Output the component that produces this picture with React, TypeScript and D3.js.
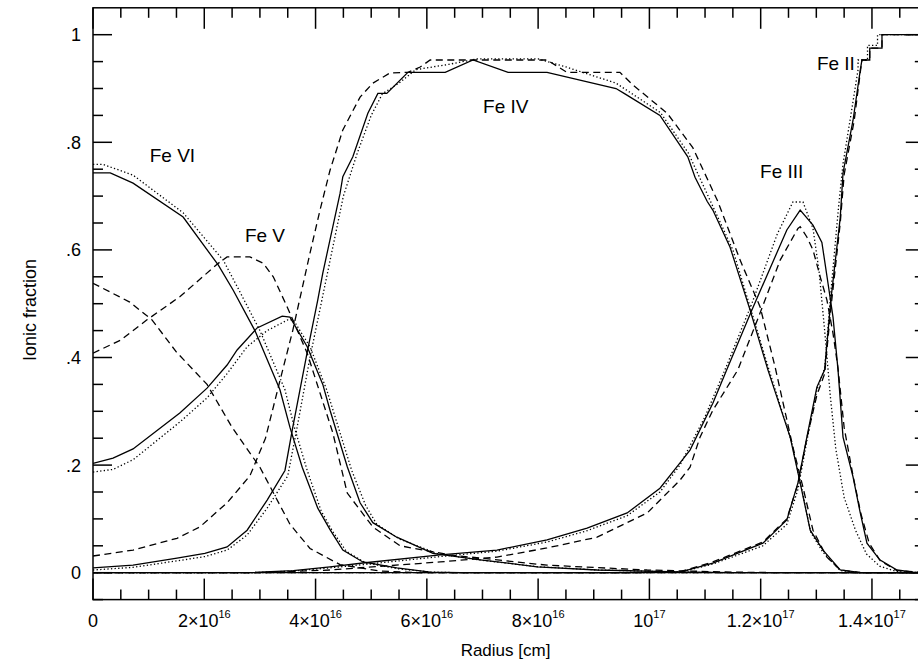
import React from "react";
import * as d3 from "d3";

// radius in units of 1e16 cm, ionic fraction
type Pt = [number, number];

const feVISolid: Pt[] = [[0,0.743],[0.31,0.743],[0.72,0.724],[1.62,0.661],[2.25,0.572],[2.52,0.525],[2.91,0.45],[3.36,0.34],[3.54,0.27],[3.76,0.196],[4.04,0.12],[4.26,0.08],[4.49,0.042],[4.85,0.02],[5.46,0.009],[6.06,0.001],[6.6,0],[14.95,0]];
const feVIDotted: Pt[] = [[0,0.759],[0.18,0.759],[0.72,0.739],[1.62,0.669],[2.34,0.581],[2.6,0.53],[3.0,0.45],[3.45,0.34],[3.62,0.27],[3.85,0.19],[4.1,0.115],[4.3,0.078],[4.55,0.04],[4.9,0.018],[5.5,0.007],[6.1,0.001],[6.6,0],[14.95,0]];
const feVIDashed: Pt[] = [[0,0.538],[0.66,0.503],[1.06,0.47],[1.5,0.41],[2.05,0.35],[2.5,0.27],[3.0,0.196],[3.54,0.09],[3.9,0.045],[4.44,0.015],[5.16,0.003],[5.88,0],[14.95,0]];

const feVSolid: Pt[] = [[0,0.203],[0.36,0.213],[0.72,0.23],[1.56,0.297],[2.05,0.343],[2.41,0.386],[2.59,0.414],[2.95,0.455],[3.4,0.477],[3.54,0.475],[3.85,0.42],[4.13,0.35],[4.26,0.302],[4.57,0.197],[4.8,0.13],[5.03,0.093],[5.46,0.066],[6.11,0.036],[6.96,0.024],[7.98,0.011],[9.06,0.005],[10.73,0.001],[11.5,0],[14.95,0]];
const feVDotted: Pt[] = [[0,0.187],[0.36,0.192],[0.72,0.21],[1.56,0.28],[2.05,0.325],[2.41,0.37],[2.77,0.42],[3.13,0.45],[3.5,0.47],[3.6,0.47],[3.9,0.42],[4.2,0.34],[4.35,0.29],[4.65,0.19],[4.9,0.125],[5.1,0.09],[5.5,0.063],[6.2,0.035],[7.0,0.023],[8.0,0.011],[9.1,0.005],[10.7,0.001],[11.5,0],[14.95,0]];
const feVDashed: Pt[] = [[0,0.408],[0.49,0.432],[0.97,0.47],[1.56,0.513],[2.25,0.575],[2.41,0.587],[2.82,0.587],[3.06,0.575],[3.24,0.55],[3.49,0.494],[3.85,0.408],[4.31,0.26],[4.57,0.148],[5.03,0.085],[5.52,0.05],[6.42,0.033],[8.16,0.014],[9.96,0.005],[11.5,0.001],[12.5,0],[14.95,0]];

const feIVSolid: Pt[] = [[0,0.009],[0.72,0.014],[1.51,0.027],[2.01,0.036],[2.41,0.048],[2.77,0.079],[3.13,0.135],[3.45,0.19],[3.59,0.27],[3.85,0.41],[4.04,0.507],[4.13,0.557],[4.44,0.705],[4.49,0.736],[4.67,0.773],[4.94,0.854],[5.12,0.891],[5.28,0.891],[5.66,0.93],[6.33,0.93],[6.83,0.953],[7.46,0.93],[8.16,0.93],[9.4,0.9],[9.56,0.89],[10.19,0.85],[10.69,0.773],[10.82,0.735],[11.04,0.69],[11.14,0.674],[11.45,0.605],[11.81,0.488],[12.13,0.377],[12.53,0.252],[12.71,0.167],[12.89,0.079],[13.12,0.042],[13.43,0.005],[13.8,0],[14.95,0]];
const feIVDotted: Pt[] = [[0,0.005],[0.72,0.01],[1.51,0.022],[2.01,0.03],[2.41,0.042],[2.77,0.07],[3.13,0.12],[3.5,0.18],[3.65,0.26],[3.9,0.4],[4.1,0.5],[4.5,0.7],[4.75,0.78],[5.0,0.85],[5.2,0.89],[5.5,0.91],[5.8,0.935],[6.4,0.945],[6.9,0.955],[8.0,0.955],[8.5,0.94],[9.4,0.91],[10.2,0.855],[10.7,0.78],[11.1,0.69],[11.5,0.6],[11.85,0.48],[12.15,0.377],[12.55,0.245],[12.73,0.16],[12.9,0.075],[13.12,0.038],[13.43,0.004],[13.8,0],[14.95,0]];
const feIVDashed: Pt[] = [[0,0.031],[0.72,0.042],[1.51,0.064],[1.92,0.085],[2.41,0.13],[2.82,0.18],[3.1,0.25],[3.36,0.357],[3.59,0.45],[3.9,0.594],[4.08,0.674],[4.26,0.748],[4.49,0.823],[4.8,0.884],[5.03,0.91],[5.34,0.929],[5.66,0.93],[5.88,0.94],[6.06,0.953],[8.16,0.953],[8.52,0.93],[9.47,0.93],[9.71,0.906],[10.32,0.854],[10.78,0.79],[11.23,0.69],[11.63,0.581],[11.99,0.494],[12.26,0.382],[12.58,0.233],[12.76,0.159],[12.94,0.079],[13.19,0.029],[13.43,0.005],[13.8,0],[14.95,0]];

const feIIISolid: Pt[] = [[0,0],[2.8,0],[3.6,0.004],[4.26,0.011],[4.85,0.018],[6.24,0.033],[7.26,0.042],[8.16,0.061],[8.88,0.083],[9.6,0.111],[10.19,0.157],[10.55,0.204],[10.73,0.228],[11.14,0.315],[11.39,0.377],[11.84,0.488],[12.47,0.637],[12.71,0.674],[12.94,0.646],[13.1,0.614],[13.21,0.538],[13.3,0.475],[13.39,0.377],[13.48,0.252],[13.66,0.178],[13.79,0.111],[13.91,0.055],[14.14,0.024],[14.45,0.005],[14.74,0.001],[14.95,0]];
const feIIIDotted: Pt[] = [[0,0],[2.8,0],[3.6,0.003],[4.26,0.009],[4.85,0.015],[6.24,0.03],[7.26,0.04],[8.16,0.057],[8.88,0.078],[9.6,0.106],[10.19,0.15],[10.55,0.2],[11.0,0.29],[11.39,0.385],[11.84,0.5],[12.3,0.63],[12.58,0.689],[12.76,0.689],[12.94,0.64],[13.05,0.56],[13.15,0.45],[13.25,0.33],[13.35,0.23],[13.5,0.14],[13.7,0.08],[13.9,0.035],[14.14,0.012],[14.45,0.002],[14.95,0]];
const feIIIDashed: Pt[] = [[0,0],[3.0,0],[4.26,0.005],[6.24,0.02],[7.26,0.029],[8.16,0.046],[9.06,0.066],[9.96,0.111],[10.55,0.172],[10.73,0.196],[10.91,0.252],[11.14,0.302],[11.59,0.377],[11.99,0.483],[12.35,0.581],[12.67,0.64],[12.71,0.643],[12.83,0.624],[12.94,0.6],[13.07,0.55],[13.19,0.507],[13.3,0.445],[13.39,0.38],[13.5,0.27],[13.66,0.18],[13.8,0.11],[13.95,0.055],[14.15,0.022],[14.45,0.004],[14.95,0]];

const feIISolid: Pt[] = [[0,0],[9.5,0],[10.55,0.001],[11.14,0.018],[12.04,0.055],[12.47,0.098],[12.67,0.167],[12.83,0.252],[13.01,0.345],[13.15,0.377],[13.26,0.506],[13.43,0.66],[13.48,0.743],[13.66,0.841],[13.79,0.934],[13.82,0.953],[13.96,0.953],[13.96,0.975],[14.18,0.975],[14.18,1.0],[14.95,1.0]];
const feIIDotted: Pt[] = [[0,0],[9.5,0],[10.55,0.001],[11.14,0.016],[12.04,0.05],[12.47,0.09],[12.67,0.155],[12.83,0.245],[13.01,0.34],[13.15,0.38],[13.26,0.52],[13.4,0.68],[13.48,0.76],[13.62,0.85],[13.75,0.935],[13.75,0.953],[13.92,0.953],[13.92,0.98],[14.1,0.98],[14.1,1.0],[14.95,1.0]];
const feIIDashed: Pt[] = [[0,0],[9.5,0],[10.55,0.002],[11.14,0.02],[12.04,0.057],[12.47,0.1],[12.67,0.165],[12.83,0.25],[13.01,0.33],[13.15,0.37],[13.26,0.49],[13.43,0.65],[13.5,0.74],[13.68,0.84],[13.79,0.93],[13.82,0.953],[13.96,0.953],[13.96,0.975],[14.18,0.975],[14.18,1.0],[14.95,1.0]];

const xMajor = [0, 2, 4, 6, 8, 10, 12, 14];
const xMinor = [0.5, 1, 1.5, 2.5, 3, 3.5, 4.5, 5, 5.5, 6.5, 7, 7.5, 8.5, 9, 9.5, 10.5, 11, 11.5, 12.5, 13, 13.5, 14.5];
const xTickBase = ["0", "2×10", "4×10", "6×10", "8×10", "10", "1.2×10", "1.4×10"];
const xTickExp = ["", "16", "16", "16", "16", "17", "17", "17"];
const yMajor = [0, 0.2, 0.4, 0.6, 0.8, 1];
const yMinor = [-0.05, 0.05, 0.1, 0.15, 0.25, 0.3, 0.35, 0.45, 0.5, 0.55, 0.65, 0.7, 0.75, 0.85, 0.9, 0.95];
const yTickLabels = ["0", ".2", ".4", ".6", ".8", "1"];

const ionNames = ["Fe VI", "Fe V", "Fe IV", "Fe III", "Fe II"];
const ionLabelAt: Pt[] = [[1.02, 0.763], [2.73, 0.614], [7.01, 0.854], [11.99, 0.733], [13.01, 0.934]];

const FONT = "'Liberation Sans', Arial, Helvetica, sans-serif";

const x = d3.scaleLinear().domain([0, 14.95]).range([93, 93 + 14.95 * 55.64]);
const y = d3.scaleLinear().domain([-0.05, 1.05]).range([599.6, 7.8]);
const line = d3.line<Pt>().x((d) => x(d[0])).y((d) => y(d[1]));

const solids = [feVISolid, feVSolid, feIVSolid, feIIISolid, feIISolid];
const dotted = [feVIDotted, feVDotted, feIVDotted, feIIIDotted, feIIDotted];
const dashed = [feVIDashed, feVDashed, feIVDashed, feIIIDashed, feIIDashed];

const left = x(0);
const right = x(14.95);
const bottom = y(-0.05);
const top = y(1.05);

// each tick as a small path segment [x1, y1, x2, y2]
function tickSegments(): Pt[][] {
  const out: Pt[][] = [];
  const xt = (v: number, len: number) => {
    out.push([[x(v), bottom], [x(v), bottom - len]]);
    out.push([[x(v), top], [x(v), top + len]]);
  };
  const yt = (v: number, len: number) => {
    out.push([[left, y(v)], [left + len, y(v)]]);
    out.push([[right, y(v)], [right - len, y(v)]]);
  };
  xMajor.forEach((v) => xt(v, 21));
  xMinor.forEach((v) => xt(v, 10));
  yMajor.forEach((v) => yt(v, 19));
  yMinor.forEach((v) => yt(v, 10));
  return out;
}

export default function App() {
  const series = [
    ...dashed.map((d) => ({ d, dash: "7,4.5" })),
    ...dotted.map((d) => ({ d, dash: "1.3,2.3" })),
    ...solids.map((d) => ({ d, dash: undefined as string | undefined })),
  ];
  const segs = tickSegments();

  return (
    <div style={{ position: "absolute", left: 0, top: 0, width: 918, height: 662, background: "#fff" }}>
      <svg width={918} height={662} fontFamily={FONT} style={{ display: "block" }}>
        <defs>
          <clipPath id="plot">
            <rect x={left} y={top} width={right - left} height={bottom - top} />
          </clipPath>
        </defs>
        <g clipPath="url(#plot)">
          {series.map((s, i) => (
            <path
              key={i}
              d={line(s.d) || ""}
              fill="none"
              stroke="#000"
              strokeWidth={1.3}
              strokeDasharray={s.dash}
            />
          ))}
        </g>
        {segs.map((s, i) => (
          <path
            key={"tk" + i}
            d={`M${s[0][0]},${s[0][1]}L${s[1][0]},${s[1][1]}`}
            fill="none"
            stroke="#000"
            strokeWidth={1.5}
          />
        ))}
        <rect x={left} y={top} width={right - left} height={bottom - top} fill="none" stroke="#000" strokeWidth={1.5} />
        {xMajor.map((v, i) => (
          <text key={"xl" + v} x={x(v)} y={627} textAnchor="middle" fontSize={18}>
            {xTickBase[i]}
            {xTickExp[i] ? <tspan dy={-9} fontSize={11}>{xTickExp[i]}</tspan> : null}
          </text>
        ))}
        {yMajor.map((v, i) => (
          <text key={"yl" + v} x={81} y={y(v)} dy="0.36em" textAnchor="end" fontSize={18}>
            {yTickLabels[i]}
          </text>
        ))}
        <text x={(left + 918) / 2} y={656} textAnchor="middle" fontSize={17}>
          Radius [cm]
        </text>
        <text transform="translate(36,310) rotate(-90)" textAnchor="middle" fontSize={18}>
          Ionic fraction
        </text>
        {ionNames.map((name, i) => (
          <text key={name} x={x(ionLabelAt[i][0])} y={y(ionLabelAt[i][1])} fontSize={19}>
            {name}
          </text>
        ))}
      </svg>
    </div>
  );
}
